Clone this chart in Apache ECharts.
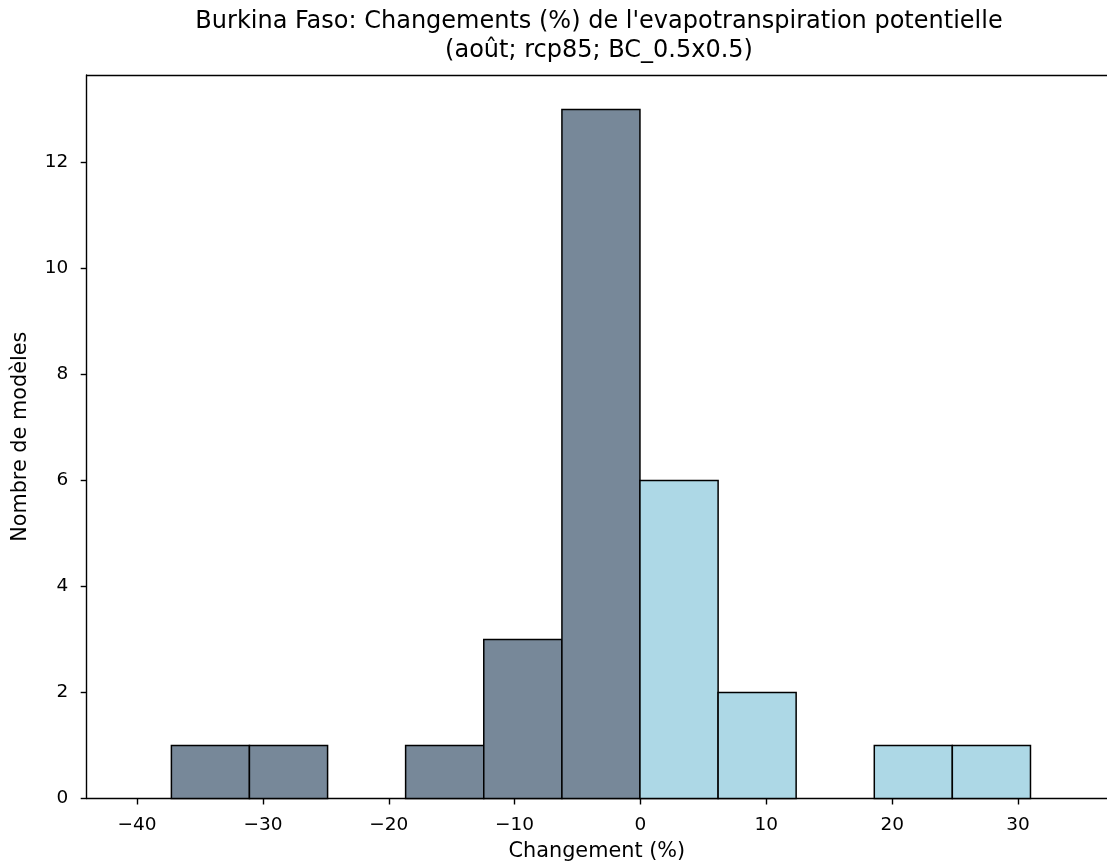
<!DOCTYPE html>
<html><head><meta charset="utf-8">
<script src="https://cdn.jsdelivr.net/npm/echarts@6/dist/echarts.min.js"></script>
<style>html,body{margin:0;padding:0;background:#fff}#c{width:1107px;height:867px}</style>
</head><body><div id="c"></div>
<script>
const titleLines = ["Burkina Faso: Changements (%) de l'evapotranspiration potentielle", "(août; rcp85; BC_0.5x0.5)"];
const xLabel = 'Changement (%)';
const yLabel = 'Nombre de modèles';
const binEdges = [-37.27, -31.07, -24.86, -18.66, -12.45, -6.24, -0.04, 6.17, 12.37, 18.58, 24.78, 30.99];
const counts = [1, 1, 0, 1, 3, 13, 6, 2, 0, 1, 1];
const xTicks = [-40, -30, -20, -10, 0, 10, 20, 30];
const yTicks = [0, 2, 4, 6, 8, 10, 12];
const negColor = '#778899';
const posColor = '#add8e6';

const FONT = "'DejaVu Sans', sans-serif";
const data = counts.map((c, i) => [binEdges[i], binEdges[i + 1], c]);
const chart = echarts.init(document.getElementById('c'), null, { renderer: 'canvas' });
const lineStyle = { color: '#000', width: 1.4 };
const fmt = v => (v < 0 ? '\u2212' + Math.abs(v) : String(v));

chart.setOption({
  animation: false,
  backgroundColor: '#fff',
  graphic: [{
    type: 'text', x: 599, y: 7, z: 10,
    style: { text: titleLines.join('\n'), fill: '#000', font: '24px ' + FONT, textAlign: 'center', lineHeight: 29 }
  }],
  grid: { left: 86.7, top: 75, right: 0, bottom: 68.3, containLabel: false },
  xAxis: [{
    type: 'value', position: 'bottom', min: -44, max: 37.07,
    axisLine: { show: true, onZero: false, lineStyle },
    axisTick: { show: true, customValues: xTicks, length: 6, lineStyle },
    axisLabel: { customValues: xTicks, margin: 17.7, fontSize: 18.5, lineHeight: 18.5, color: '#000', fontFamily: FONT, formatter: fmt },
    splitLine: { show: false },
    name: xLabel, nameLocation: 'middle', nameGap: 42.5,
    nameTextStyle: { fontSize: 20.8, lineHeight: 21, color: '#000', fontFamily: FONT }
  }, {
    type: 'value', position: 'top', min: -44, max: 37.07,
    axisLine: { show: true, onZero: false, lineStyle },
    axisTick: { show: false }, axisLabel: { show: false }, splitLine: { show: false }
  }],
  yAxis: {
    type: 'value', min: 0, max: 13.65,
    axisLine: { show: true, onZero: false, lineStyle },
    axisTick: { show: true, customValues: yTicks, length: 6, lineStyle },
    axisLabel: { customValues: yTicks, margin: 18.4, fontSize: 18.5, lineHeight: 18.5, color: '#000', fontFamily: FONT },
    splitLine: { show: false },
    name: yLabel, nameLocation: 'middle', nameGap: 55.8,
    nameTextStyle: { fontSize: 20.8, lineHeight: 21, color: '#000', fontFamily: FONT }
  },
  series: [{
    type: 'custom',
    data: data,
    encode: { x: [0, 1], y: 2 },
    renderItem: function (params, api) {
      const x0 = api.value(0), x1 = api.value(1), c = api.value(2);
      if (!(c > 0)) return null;
      const p0 = api.coord([x0, c]);
      const p1 = api.coord([x1, 0]);
      return {
        type: 'rect',
        shape: { x: p0[0], y: p0[1], width: p1[0] - p0[0], height: p1[1] - p0[1] },
        style: { fill: (x0 + x1) / 2 < 0 ? negColor : posColor, stroke: '#000', lineWidth: 1.5 }
      };
    }
  }]
});
</script></body></html>
